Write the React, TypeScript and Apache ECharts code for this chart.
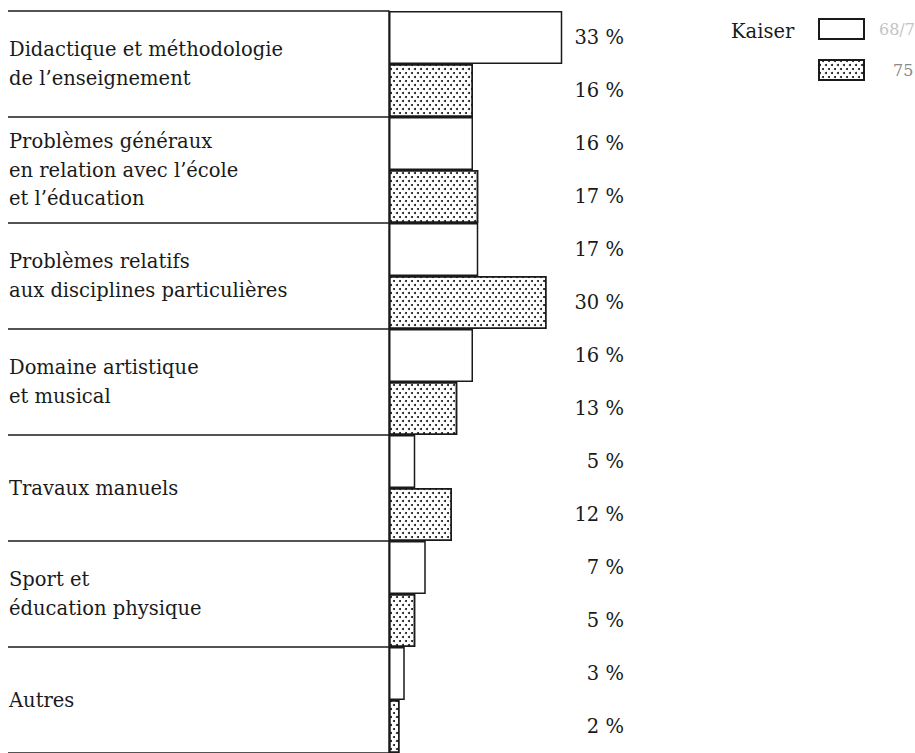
import React, { useEffect, useRef } from "react";
import * as echarts from "echarts";

const categories = [
  "Didactique et méthodologie\nde l’enseignement",
  "Problèmes généraux\nen relation avec l’école\net l’éducation",
  "Problèmes relatifs\naux disciplines particulières",
  "Domaine artistique\net musical",
  "Travaux manuels",
  "Sport et\néducation physique",
  "Autres",
];
const seriesNames = ["68/7", "75"];
const values6872 = [33, 16, 17, 16, 5, 7, 3];
const values75 = [16, 17, 30, 13, 12, 5, 2];
const legendTitle = "Kaiser";

const FONT = "DejaVu Serif";
const INK = "#1a1a1a";

export default function App() {
  const ref = useRef<HTMLDivElement>(null);
  useEffect(() => {
    if (!ref.current) return;
    const chart = echarts.init(ref.current, null, { renderer: "svg" });
    const dots = {
      symbol: "circle",
      symbolSize: 1,
      color: "#111",
      dashArrayX: [
        [2, 4],
        [0, 3, 2, 1],
      ],
      dashArrayY: [2, 1.7],
      rotation: 0,
    };
    const label = {
      show: true,
      position: "insideLeft",
      distance: 0,
      offset: [235, 0],
      align: "right",
      formatter: "{c} %",
      fontFamily: FONT,
      fontSize: 19.5,
      color: INK,
    };
    chart.setOption({
      animation: false,
      backgroundColor: "#fff",
      title: {
        text: legendTitle,
        left: 731,
        top: 21,
        padding: 0,
        textStyle: { fontFamily: FONT, fontSize: 19.5, fontWeight: "normal", color: INK },
      },
      legend: {
        orient: "vertical",
        left: 818,
        top: 18,
        padding: 0,
        itemWidth: 45,
        itemHeight: 20,
        itemGap: 19,
        icon: "rect",
        selectedMode: false,
        data: [
          { name: seriesNames[0], textStyle: { color: "#c4c4c4", padding: [0, 0, 0, 10] } },
          { name: seriesNames[1], textStyle: { color: "#8a8a8a", padding: [0, 0, 0, 24] } },
        ],
        textStyle: { fontFamily: FONT, fontSize: 16 },
      },
      grid: { left: 389, right: 1, top: 11, bottom: 0, containLabel: false },
      xAxis: { type: "value", min: 0, max: 100, show: false },
      yAxis: {
        type: "category",
        inverse: true,
        data: categories,
        axisLine: { show: true, lineStyle: { color: INK, width: 1.5 } },
        axisTick: { show: true, interval: 0, length: 381, lineStyle: { color: INK, width: 1.5 } },
        axisLabel: {
          interval: 0,
          margin: 380,
          align: "left",
          fontFamily: FONT,
          fontSize: 19.5,
          lineHeight: 28.5,
          color: INK,
        },
        splitLine: { show: false },
      },
      series: [
        {
          name: seriesNames[0],
          type: "bar",
          data: values6872,
          barGap: "0%",
          barCategoryGap: "0%",
          itemStyle: { color: "#fff", borderColor: INK, borderWidth: 1.5 },
          label,
        },
        {
          name: seriesNames[1],
          type: "bar",
          data: values75,
          barGap: "0%",
          barCategoryGap: "0%",
          itemStyle: { color: "#fff", borderColor: INK, borderWidth: 1.5, decal: dots },
          label,
        },
      ],
    });
    return () => chart.dispose();
  }, []);
  return (
    <div
      ref={ref}
      style={{ position: "fixed", left: 0, top: 0, width: 915, height: 753, background: "#fff" }}
    />
  );
}
